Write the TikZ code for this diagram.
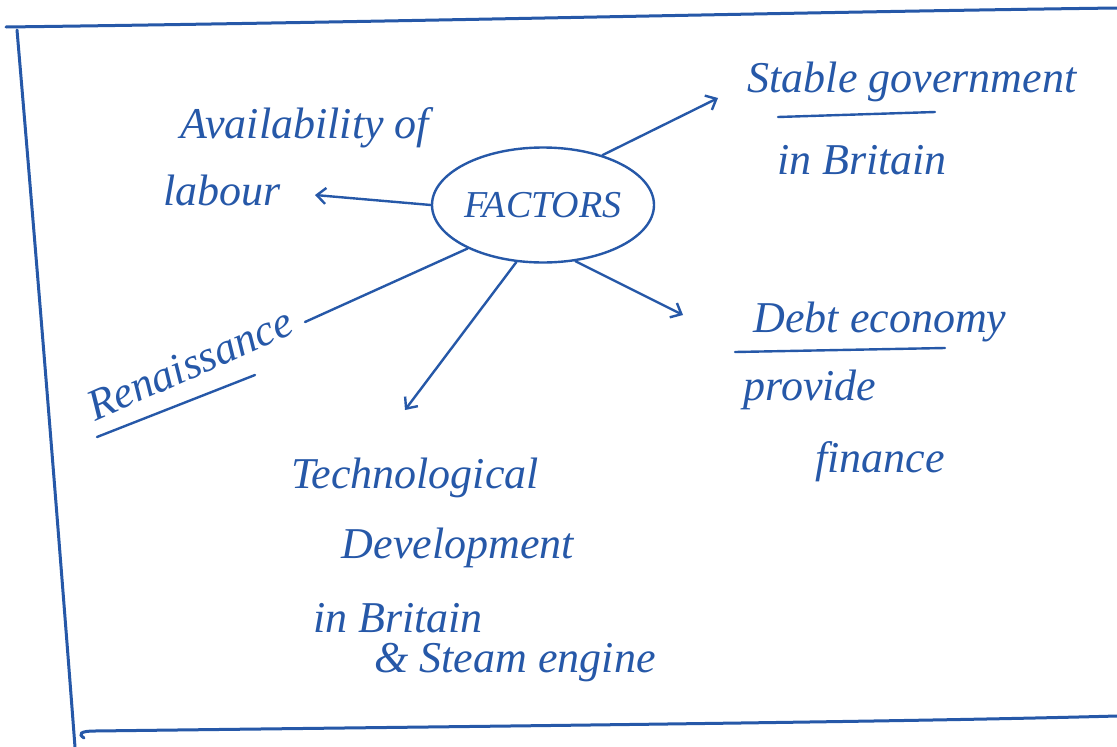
\documentclass[tikz,border=0pt]{standalone}
\usepackage{fontspec}
\setmainfont{Liberation Serif}
\usetikzlibrary{shapes.geometric,arrows.meta}
\definecolor{ink}{RGB}{38,88,168}
\begin{document}
\begin{tikzpicture}[x=1pt,y=-1pt,
  ink line/.style={draw=ink,line width=2.4pt,line cap=round,line join=round},
  frame line/.style={draw=ink,line width=3pt,line cap=round},
  hand/.style={text=ink,inner sep=0pt,font=\fontsize{44}{50}\selectfont\itshape},
  link/.style={ink line,-{Straight Barb[length=9pt,width=16pt,line width=2.4pt]}}]
\useasboundingbox (0,0) rectangle (1117,747);
\fill[white] (0,0) rectangle (1117,747);

% hand-drawn frame
\draw[frame line] (6,27) .. controls (400,22) and (800,12) .. (1117,8);
\draw[frame line] (17,30) .. controls (40,300) and (60,550) .. (75,747);
\draw[frame line] (84,738) .. controls (78,734) and (80,731) .. (95,731)
  .. controls (500,726) and (900,722) .. (1117,716);

% central topic
\node[ellipse,draw=ink,line width=2.4pt,minimum width=195pt,minimum height=115pt,
  inner sep=0pt,text=ink,font=\fontsize{38}{44}\selectfont\itshape] (factors) at (543,205) {FACTORS};

% labels
\node[hand] (avail) at (305,128) {Availability of};
\node[hand] (labour) at (222,190) {labour};
\node[hand] (stable) at (912,82) {Stable government};
\node[hand] (stablein) at (862,160) {in Britain};
\node[hand] (debt) at (880,322) {Debt economy};
\node[hand] (provide) at (810,390) {provide};
\node[hand] (finance) at (880,462) {finance};
\node[hand,rotate=24] (ren) at (190,364) {Renaissance};
\node[hand] (tech) at (415,478) {Technological};
\node[hand] (dev) at (458,548) {Development};
\node[hand] (techin) at (398,618) {in Britain};
\node[hand] (steam) at (515,663) {\& Steam engine};

% underlines
\draw[ink line] (778,117) -- (935,112);
\draw[ink line] (735,352) -- (945,348);
\draw[ink line] (97,437) -- (255,375);

% arrow ends
\coordinate (toLabour) at (315,195);
\coordinate (toStable) at (718,98);
\coordinate (toDebt) at (683,315);
\coordinate (toTech) at (405,410);
\coordinate (toRen) at (305,322);

% connectors
\draw[link] (factors.west) -- (toLabour);
\draw[link] (factors.40) -- (toStable);
\draw[link] (factors.-60) -- (toDebt);
\draw[link] (factors.-115) -- (toTech);
\draw[ink line] (factors.-150) -- (toRen);
\end{tikzpicture}
\end{document}
